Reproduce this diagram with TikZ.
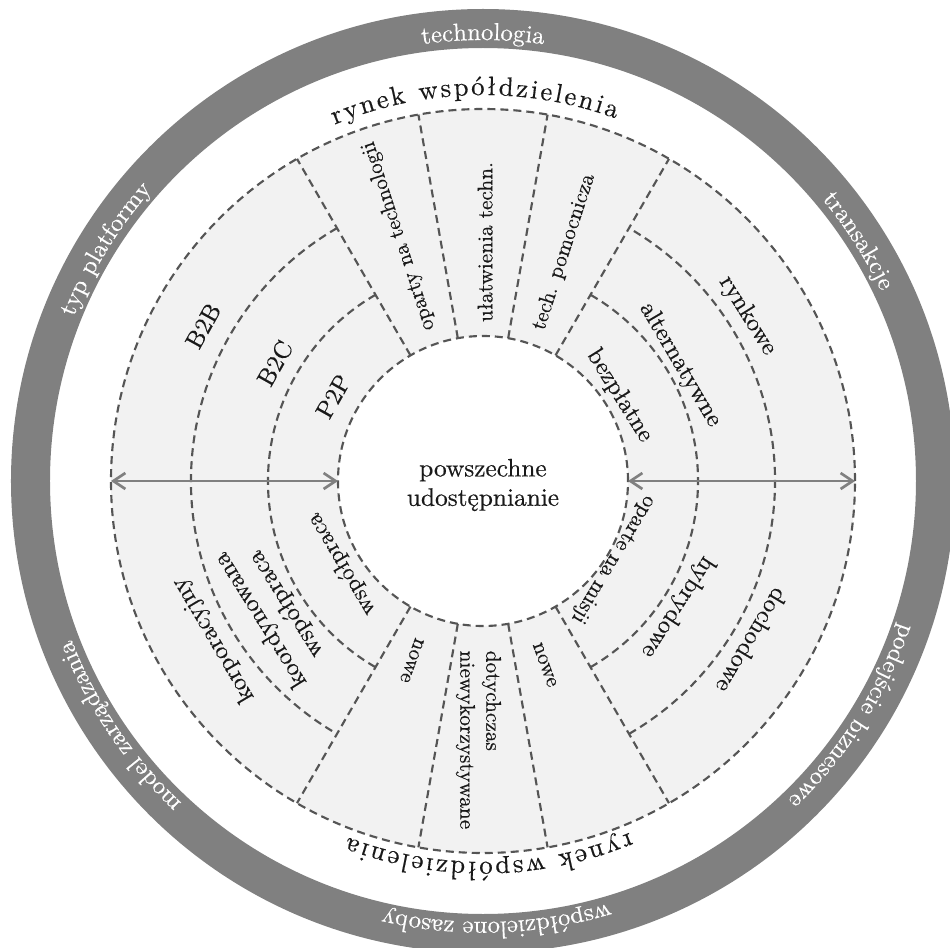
\documentclass[tikz,border=0pt]{standalone}
\usepackage{fontspec}
\setmainfont{lmroman10-regular.otf}[FakeBold=0.4]
\usetikzlibrary{arrows.meta,decorations.text}
\definecolor{ringgray}{RGB}{128,128,128}
\definecolor{fillgray}{RGB}{242,242,242}
\definecolor{dashgray}{RGB}{85,85,85}
\definecolor{arrgray}{RGB}{128,128,128}
\definecolor{txt}{RGB}{25,25,25}
\tikzset{
  dashline/.style={draw=dashgray, line width=1.6pt, dash pattern=on 6pt off 3.75pt},
  arr/.style={draw=arrgray, line width=2pt, {Straight Barb[length=9pt,width=12pt]}-{Straight Barb[length=9pt,width=12pt]}},
  tlab/.style={font=\fontsize{18.5}{22.5}\selectfont, text=txt, inner sep=0pt, align=center},
  rlab/.style={font=\fontsize{16}{19.5}\selectfont, text=txt, inner sep=0pt},
  ringtext/.style={decorate, decoration={text along path, text align=center, text color=white, text={|\fontsize{18.5}{22}\selectfont|#1}}},
  markettext/.style={decorate, decoration={text along path, text align=fit to path, text color=txt, text={|\fontsize{20}{24}\selectfont|#1}}}
}
\begin{document}
\begin{tikzpicture}[x=0.75pt, y=0.75pt]
\useasboundingbox (-483,-466) rectangle (467,481);
\clip (-483,-466) rectangle (467,481);
% outer gray ring
\fill[ringgray, even odd rule] (0,0) circle[radius=472] (0,0) circle[radius=433];
% light annulus
\fill[fillgray, even odd rule] (0,0) circle[radius=372] (0,0) circle[radius=145];
% dashed structure
\draw[dashline] (0,0) circle[radius=145];
\draw[dashline] (0,0) circle[radius=372];
\draw[dashline] (120:215) arc[start angle=120, end angle=240, radius=215];
\draw[dashline] (120:292) arc[start angle=120, end angle=240, radius=292];
\draw[dashline] (-60:215) arc[start angle=-60, end angle=60, radius=215];
\draw[dashline] (-60:292) arc[start angle=-60, end angle=60, radius=292];
\foreach \a in {60,80,100,120,240,260,280,300}{
  \draw[dashline] (\a:145) -- (\a:372);
}
% arrows
\coordinate (Lin) at (180:145);
\coordinate (Lout) at (180:372);
\coordinate (Rin) at (0:145);
\coordinate (Rout) at (0:372);
\draw[arr] (Lin) -- (Lout);
\draw[arr] (Rin) -- (Rout);
% ring texts
\path[ringtext={technologia}] (120:441) arc[start angle=120, end angle=60, radius=441];
\path[ringtext={transakcje}] (62.6:441) arc[start angle=62.6, end angle=2.6, radius=441];
\path[ringtext={podejście biznesowe}] (-2.5:441) arc[start angle=-2.5, end angle=-62.5, radius=441];
\path[ringtext={współdzielone zasoby}] (-58.2:441) arc[start angle=-58.2, end angle=-118.2, radius=441];
\path[ringtext={model zarządzania}] (-116:441) arc[start angle=-116, end angle=-176, radius=441];
\path[ringtext={typ platformy}] (178.4:441) arc[start angle=178.4, end angle=118.4, radius=441];
% market texts
\path[markettext={rynek współdzielenia}] (112.6:386) arc[start angle=112.6, end angle=69.9, radius=386];
\path[markettext={rynek współdzielenia}] (-67.4:381) arc[start angle=-67.4, end angle=-110.7, radius=381];
% center
\node[font=\fontsize{19}{22}\selectfont, text=txt, align=center] (center) at (0,-4) {powszechne\\udostępnianie};
% typ platformy sector
\node[tlab, rotate=61] (b2b) at (151:320) {B2B};
\node[tlab, rotate=60.5] (b2c) at (150.5:239) {B2C};
\node[tlab, rotate=60.5] (p2p) at (150.5:172) {P2P};
% transakcje sector
\node[tlab, rotate=-58] (rynkowe) at (32:312) {rynkowe};
\node[tlab, rotate=-59.5] (altern) at (30.5:229) {alternatywne};
\node[tlab, rotate=-58] (bezpl) at (32:161) {bezpłatne};
% model zarzadzania sector
\node[tlab, rotate=120.5] (korp) at (210.5:313) {korporacyjny};
\node[tlab, rotate=122] (koord) at (212:247) {koordynowana\\współpraca};
\node[tlab, rotate=120.5, font=\fontsize{17.5}{21}\selectfont] (wspol) at (210.5:164) {współpraca};
% podejscie biznesowe sector
\node[tlab, rotate=-120.7] (dochod) at (-30.7:313) {dochodowe};
\node[tlab, rotate=-122.9] (hybryd) at (-32.9:232) {hybrydowe};
\node[tlab, rotate=-121, font=\fontsize{16.5}{20}\selectfont] (misja) at (-31:152) {oparte na misji};
% technologia sector
\node[rlab, rotate=108] (oparty) at (109:259) {oparty na technologii};
\node[rlab, rotate=90] (ulatw) at (89.5:239) {ułatwienia techn.};
\node[rlab, rotate=72] (pomoc) at (70.5:243) {tech. pomocnicza};
% wspoldzielone zasoby sector
\node[rlab, rotate=-110] (nowe1) at (248.4:193) {nowe};
\node[rlab, rotate=-90, align=left] (dotych) at (269:259) {dotychczas\\niewykorzystywane};
\node[rlab, rotate=-70] (nowe2) at (288.6:194) {nowe};
\end{tikzpicture}
\end{document}
